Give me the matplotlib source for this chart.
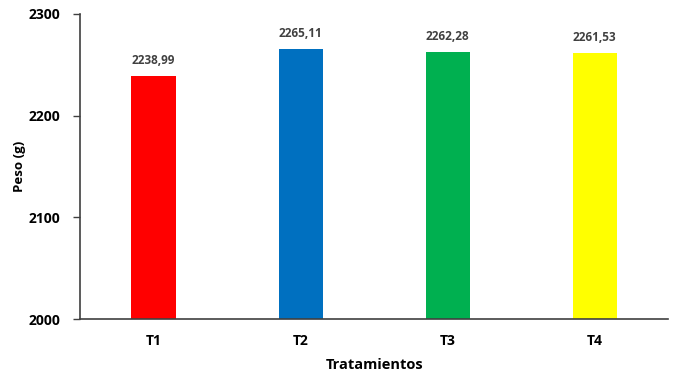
import matplotlib.pyplot as plt

# datos
tratamientos = ['T1', 'T2', 'T3', 'T4']
peso = [2238.99, 2265.11, 2262.28, 2261.53]
colores = ['#FF0000', '#0070C0', '#00B050', '#FFFF00']

plt.rcParams['font.family'] = ['Open Sans', 'DejaVu Sans']
plt.rcParams['font.weight'] = 'bold'

fig = plt.figure(figsize=(6.75, 3.77), dpi=100)
ax = fig.add_axes([0.1185, 0.1538, 0.8715, 0.8092])

x = range(len(tratamientos))
ax.bar(x, peso, width=0.3, color=colores, zorder=2)

for i, v in zip(x, peso):
    ax.text(i, v + 9, f'{v:.2f}'.replace('.', ','), ha='center', va='bottom',
            fontsize=8.5, fontweight='bold', color='#404040')

ax.set_xlim(-0.5, 3.5)
ax.set_ylim(2000, 2300)
ax.set_yticks([2000, 2100, 2200, 2300])
ax.set_xticks(list(x))
ax.set_xticklabels(tratamientos)
ax.tick_params(axis='x', length=0, pad=11, labelsize=10)
ax.tick_params(axis='y', length=5, width=1, pad=9, labelsize=10, color='#404040')
for lbl in ax.get_xticklabels() + ax.get_yticklabels():
    lbl.set_fontweight('bold')

ax.spines['top'].set_visible(False)
ax.spines['right'].set_visible(False)
ax.spines['left'].set_color('#404040')
ax.spines['bottom'].set_color('#404040')
ax.spines['left'].set_linewidth(1.2)
ax.spines['bottom'].set_linewidth(1.2)

ax.set_xlabel('Tratamientos', fontsize=10.5, fontweight='bold', labelpad=7)
ax.set_ylabel('Peso (g)', fontsize=9.5, fontweight='bold', labelpad=2)

fig.savefig('out.png', dpi=100)
